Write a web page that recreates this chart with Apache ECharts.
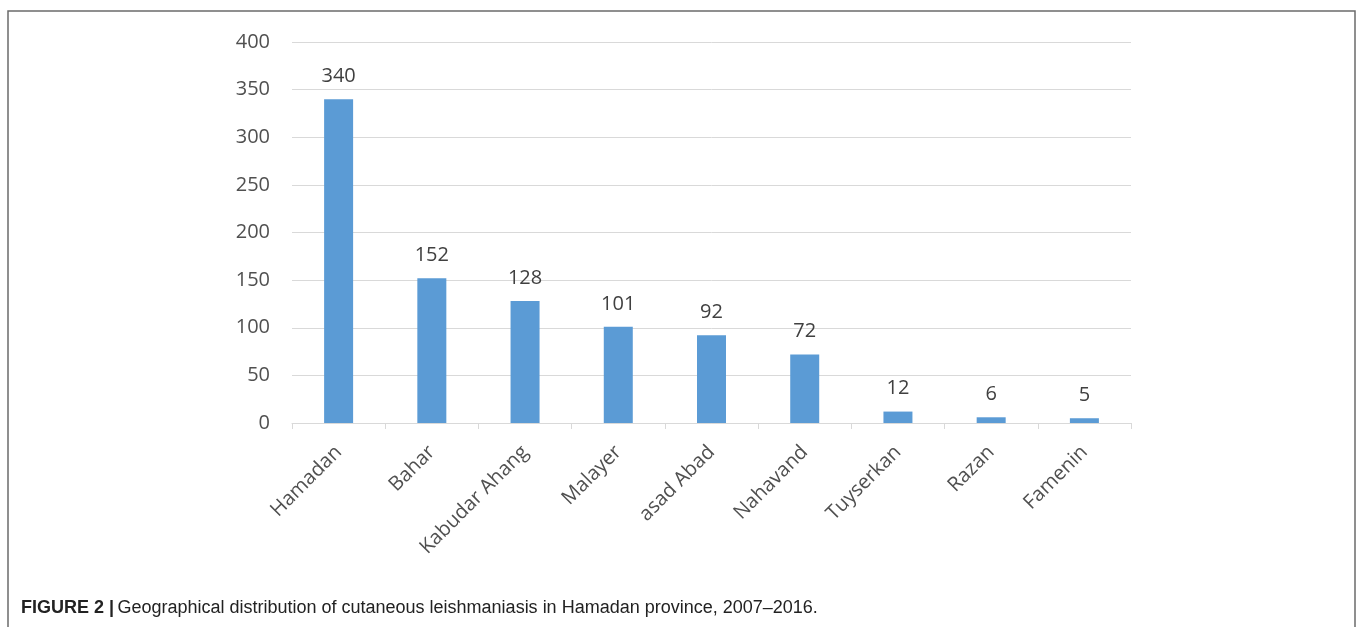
<!DOCTYPE html>
<html><head><meta charset="utf-8">
<script src="https://cdn.jsdelivr.net/npm/echarts@6/dist/echarts.min.js"></script>
<style>html,body{margin:0;padding:0;background:#fff}#c{width:1357px;height:627px}</style>
</head><body><div id="c"></div>
<script>
const categories = ["Hamadan","Bahar","Kabudar Ahang","Malayer","asad Abad","Nahavand","Tuyserkan","Razan","Famenin"];
const cases = [340,152,128,101,92,72,12,6,5];
const yTicks = {min:0, max:400, interval:50};
const caption = "Geographical distribution of cutaneous leishmaniasis in Hamadan province, 2007\u20132016.";

const chart = echarts.init(document.getElementById('c'), null, {renderer:'canvas'});
chart.setOption({
  animation:false,
  backgroundColor:'#fff',
  grid:{left:292,right:226,top:42,bottom:204,containLabel:false},
  xAxis:{type:'category',data:categories,
    axisLine:{lineStyle:{color:'#d9d9d9',width:1}},
    axisTick:{show:true,length:6,lineStyle:{color:'#d9d9d9'}},
    axisLabel:{rotate:45,margin:26,fontSize:20,color:'#505050',fontFamily:'Open Sans'}},
  yAxis:{type:'value',min:yTicks.min,max:yTicks.max,interval:yTicks.interval,
    axisLine:{show:false},axisTick:{show:false},
    splitLine:{lineStyle:{color:'#d9d9d9',width:1}},
    axisLabel:{fontSize:20,color:'#505050',margin:22,fontFamily:'Open Sans'}},
  series:[{type:'bar',data:cases,barWidth:29,
    itemStyle:{color:'#5b9bd5'},
    label:{show:true,position:'top',distance:13,fontSize:20,color:'#404040',fontFamily:'Open Sans'}}],
  graphic:[
    {type:'rect',shape:{x:8,y:11,width:1347,height:700},style:{fill:'none',stroke:'#6b6b6b',lineWidth:1.5},silent:true},
    {type:'text',left:21,top:599,style:{
      rich:{b:{fontWeight:'bold',fontSize:18,fontFamily:'Arial',fill:'#222'},
            n:{fontSize:18,fontFamily:'Arial',fill:'#222'}},
      text:'{b|FIGURE 2 |} {n|'+caption+'}'}}
  ]
});
</script></body></html>
